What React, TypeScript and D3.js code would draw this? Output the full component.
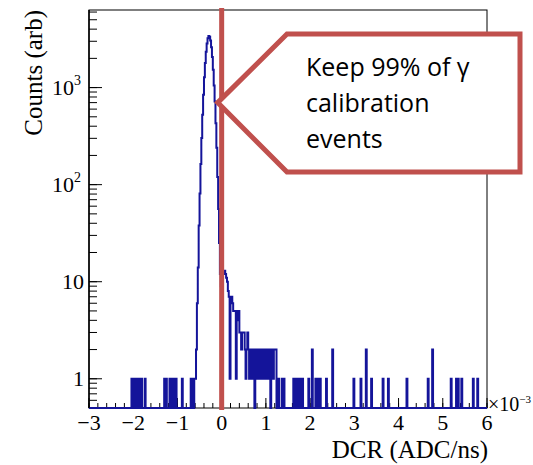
import React from "react";
import * as d3 from "d3";

// ---------- data ----------
const binWidth = 0.02;
const xDomain: [number, number] = [-3, 6];
const yDomain: [number, number] = [0.5, 6300];

// main gamma peak (bin lower edges, x10^-3 ADC/ns)
const peakEdges = [
  -0.66, -0.62, -0.6, -0.58, -0.56, -0.54, -0.52, -0.5, -0.48, -0.46, -0.44, -0.42, -0.4, -0.38,
  -0.36, -0.34, -0.32, -0.3, -0.28, -0.26, -0.24, -0.22, -0.2, -0.18, -0.16, -0.14, -0.12, -0.1,
  -0.08, -0.06, -0.04, -0.02,
];
const peakCounts = [
  1, 1, 1, 2, 6, 14, 38, 81, 163, 302, 525, 846, 1276, 1790,
  2335, 2840, 3216, 3392, 3333, 3050, 2598, 2062, 1525, 1050, 720, 430, 240, 120,
  56, 25, 12, 9,
];

// tail on the right of the cut
const tailEdges = [
  0.0, 0.02, 0.04, 0.06, 0.08, 0.1, 0.12, 0.14, 0.16, 0.18, 0.2, 0.22, 0.24, 0.26, 0.28, 0.3,
  0.32, 0.34, 0.36, 0.38, 0.4, 0.42, 0.44, 0.46, 0.48, 0.5, 0.52, 0.54, 0.56, 0.58, 0.6, 0.62,
  0.64, 0.66, 0.68, 0.7, 0.72, 0.76, 0.78, 0.8, 0.82, 0.84, 0.86, 0.88, 0.9, 0.92, 0.94, 0.96,
  0.98, 1.0, 1.02, 1.04, 1.06, 1.08, 1.12, 1.14, 1.16, 1.18, 1.2, 1.22, 1.28, 1.36, 1.4,
];
const tailCounts = [
  10, 12, 13, 13, 12, 11, 10, 8, 7, 1, 6, 7, 6, 5, 5, 5,
  1, 5, 4, 5, 3, 3, 2, 3, 3, 3, 2, 1, 2, 3, 2, 1,
  2, 2, 1, 2, 2, 1, 2, 1, 2, 2, 1, 2, 1, 2, 2, 1,
  1, 2, 1, 2, 2, 1, 2, 1, 1, 2, 2, 2, 1, 1, 1,
];

// isolated single events
const spikeEdges = [
  -2.04, -2.0, -1.96, -1.92, -1.86, -1.82, -1.74, -1.3, -1.26, -1.18, -1.14, -1.1, -1.04, -0.9, -0.7,
  1.62, 1.66, 1.72, 1.76, 1.82, 1.96, 2.04, 2.12, 2.16, 2.22, 2.36, 2.5, 2.98, 3.14, 3.26, 3.38,
  3.64, 3.76, 4.18, 4.66, 4.76, 5.18, 5.3, 5.34, 5.42, 5.68, 5.78,
];
const spikeCounts = [
  1, 1, 1, 1, 1, 1, 1, 1, 1, 1, 1, 1, 1, 1, 1,
  1, 1, 1, 1, 1, 1, 2, 1, 1, 1, 1, 2, 1, 1, 2, 1,
  1, 1, 1, 1, 2, 1, 1, 1, 1, 1, 1,
];

const xTickValues = [-3, -2, -1, 0, 1, 2, 3, 4, 5, 6];
const yTickValues = [1, 10, 100, 1000];
const yTickBase = ["1", "10", "10", "10"];
const yTickExp = ["", "", "2", "3"];
const cutValue = 0.0;
const calloutLines = ["Keep 99% of \u03b3", "calibration", "events"];

// ---------- layout ----------
const W = 533;
const H = 465;
const L = 89;
const R = 487;
const T = 10;
const B = 408;

export default function App() {
  const x = d3.scaleLinear().domain(xDomain).range([L, R]);
  const y = d3.scaleLog().domain(yDomain).range([B, T]);

  const nBins = Math.round((xDomain[1] - xDomain[0]) / binWidth);
  const counts = new Array(nBins).fill(0);
  const add = (edges: number[], cs: number[]) =>
    edges.forEach((e, i) => {
      const k = Math.round((e - xDomain[0]) / binWidth);
      if (k >= 0 && k < nBins) counts[k] += cs[i];
    });
  add(peakEdges, peakCounts);
  add(tailEdges, tailCounts);
  add(spikeEdges, spikeCounts);

  let d = "";
  for (let i = 0; i < nBins; i++) {
    const x0 = x(xDomain[0] + i * binWidth);
    const x1 = x(xDomain[0] + (i + 1) * binWidth);
    const yy = counts[i] > 0 ? y(counts[i]) : B;
    d += i === 0 ? `M${x0},${yy}` : `V${yy}`;
    d += `H${x1}`;
  }

  const xMinor = d3.range(-3, 6.0001, 0.2).map((v) => Math.round(v * 10) / 10);
  const yMinor: number[] = [];
  for (let e = -1; e <= 3; e++)
    for (let m = 1; m <= 9; m++) {
      const v = m * Math.pow(10, e);
      if (v >= yDomain[0] && v <= yDomain[1]) yMinor.push(v);
    }

  const serif = "'Liberation Serif', 'Times New Roman', serif";
  const red = "#c0504d";
  const blue = "#14149a";

  // callout geometry
  const tipX = x(cutValue) - 4;
  const tipY = y(700);
  const bx0 = 287;
  const bx1 = 520;
  const by0 = 34;
  const by1 = 172;

  return (
    <svg
      width={W}
      height={H}
      style={{ position: "absolute", left: 0, top: 0, background: "#fff" }}
    >
      <rect x={0} y={0} width={W} height={H} fill="#fff" />
      <defs>
        <clipPath id="frameClip">
          <rect x={L} y={T} width={R - L} height={B - T + 1} />
        </clipPath>
      </defs>

      {/* frame */}
      <rect x={L} y={T} width={R - L} height={B - T} fill="none" stroke="#000" strokeWidth={1} />

      {/* y ticks */}
      {yMinor.map((v, i) => (
        <line key={"ym" + i} x1={L} x2={L + 8} y1={y(v)} y2={y(v)} stroke="#000" strokeWidth={1} />
      ))}
      {yTickValues.map((v, i) => (
        <line key={"yM" + i} x1={L} x2={L + 13} y1={y(v)} y2={y(v)} stroke="#000" strokeWidth={1} />
      ))}
      {/* x ticks */}
      {xMinor.map((v, i) => (
        <line key={"xm" + i} x1={x(v)} x2={x(v)} y1={B} y2={B - 5} stroke="#000" strokeWidth={1} />
      ))}
      {xTickValues.map((v, i) => (
        <line key={"xM" + i} x1={x(v)} x2={x(v)} y1={B} y2={B - 10} stroke="#000" strokeWidth={1} />
      ))}

      {/* histogram */}
      <path d={d} fill="none" stroke={blue} strokeWidth={2} clipPath="url(#frameClip)" />

      {/* axis lines on top */}
      <line x1={L} x2={L} y1={T} y2={B} stroke="#000" strokeWidth={1.5} />

      {/* y tick labels */}
      {yTickValues.map((v, i) => (
        <text
          key={"yl" + i}
          x={L - 5 - (yTickExp[i] ? 10 : 0)}
          y={y(v) + 7}
          textAnchor="end"
          fontFamily={serif}
          fontSize={22}
          fill="#000"
        >
          {yTickBase[i]}
        </text>
      ))}
      {yTickValues.map((v, i) =>
        yTickExp[i] ? (
          <text key={"ye" + i} x={L - 15} y={y(v) - 3} fontFamily={serif} fontSize={14} fill="#000">
            {yTickExp[i]}
          </text>
        ) : null
      )}

      {/* x tick labels */}
      {xTickValues.map((v, i) => (
        <text
          key={"xl" + i}
          x={x(v)}
          y={B + 22}
          textAnchor="middle"
          fontFamily={serif}
          fontSize={22}
          fill="#000"
        >
          {v < 0 ? "\u2212" + Math.abs(v) : String(v)}
        </text>
      ))}
      <text x={R + 1} y={B + 3} fontFamily={serif} fontSize={20} fill="#000">
        {"\u00d710"}
        <tspan dy={-8} fontSize={11}>
          {"\u22123"}
        </tspan>
      </text>

      {/* axis titles */}
      <text x={R + 1} y={H - 7} textAnchor="end" fontFamily={serif} fontSize={25} fill="#000">
        DCR (ADC/ns)
      </text>
      <text
        transform={`translate(42, ${T}) rotate(-90)`}
        textAnchor="end"
        fontFamily={serif}
        fontSize={25}
        fill="#000"
      >
        Counts (arb)
      </text>

      {/* cut line */}
      <line x1={x(cutValue)} x2={x(cutValue)} y1={T - 2} y2={B + 2} stroke={red} strokeWidth={5} />

      {/* callout */}
      <path
        d={`M${tipX},${tipY} L${bx0},${by0} L${bx1},${by0} L${bx1},${by1} L${bx0},${by1} Z`}
        fill="#fff"
        stroke={red}
        strokeWidth={5}
        strokeLinejoin="miter"
      />
      {calloutLines.map((s, i) => (
        <text
          key={"cl" + i}
          x={306}
          y={76 + i * 36}
          fontFamily="'Open Sans', 'Noto Sans', sans-serif"
          fontSize={25}
          fill="#000"
        >
          {s}
        </text>
      ))}
    </svg>
  );
}
